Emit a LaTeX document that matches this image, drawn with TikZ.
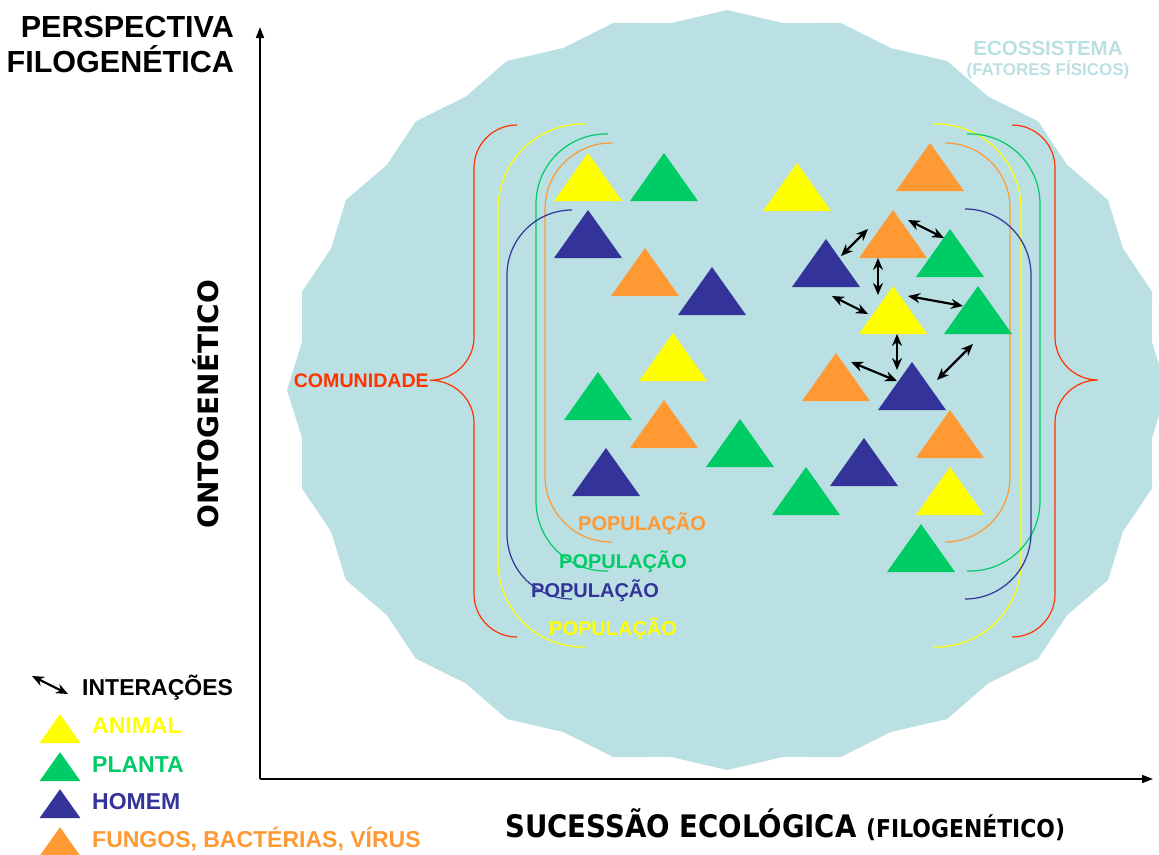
\documentclass[tikz,border=0pt]{standalone}
\usepackage{fontspec}
\setmainfont{Liberation Sans}
\newfontfamily\tahoma{DejaVu Sans}
\usetikzlibrary{arrows.meta}

\definecolor{eco}{HTML}{BBE0E3}
\definecolor{yel}{HTML}{FFFF00}
\definecolor{grn}{HTML}{00CC66}
\definecolor{nav}{HTML}{333399}
\definecolor{ora}{HTML}{FF9933}
\definecolor{com}{HTML}{FF3300}

% triangle: [scale]{colour}{centre x, base y}
\newcommand{\tri}[3][1]{\fill[#2] (#3) ++(-34*#1,0) -- ++(34*#1,-48*#1) -- ++(34*#1,48*#1) -- cycle;}

\tikzset{
  inter/.style={{Stealth[length=12pt,width=10pt]}-{Stealth[length=12pt,width=10pt]}, line width=2.2pt},
  axis/.style={-{Triangle[length=11pt,width=8pt]}, line width=1.6pt},
  brk/.style={line width=1.2pt},
  txt/.style={inner sep=0pt, anchor=base west, font=\bfseries\fontsize{#1}{#1}\selectfont},
  tah/.style={inner sep=0pt, font=\tahoma\bfseries\fontsize{#1}{#1}\selectfont}
}

\begin{document}
\begin{tikzpicture}[x=1pt,y=-1pt]
\useasboundingbox (0,0) rectangle (1159,854);

% ecossistema
\fill[eco] (727,10) \foreach \i [evaluate=\i as \r using {0.987+0.013*cos(180*\i)}] in {1,...,47} { -- ({727+440*\r*sin(7.5*\i)},{390-380*\r*cos(7.5*\i)}) } -- cycle;
\node[txt=20.5, anchor=base, text=eco] (eco1) at (1048,55) {ECOSSISTEMA};
\node[txt=17, anchor=base, text=eco] (eco2) at (1048,75) {(FATORES FÍSICOS)};

% eixos
\coordinate (o) at (260,779);
\coordinate (ytip) at (260,27);
\coordinate (xtip) at (1153,779);
\draw[axis] (o) -- (ytip);
\draw[axis] (o) -- (xtip);

\node[txt=30.5, anchor=base east] (tit1) at (234,37) {PERSPECTIVA};
\node[txt=30.5, anchor=base east] (tit2) at (234,72) {FILOGENÉTICA};
\node[tah=28, rotate=90, anchor=base] (onto) at (218,404) {ONTOGENÉTICO};
\node[tah=31, anchor=base west] (suc) at (505,837) {\scalebox{0.89}[1]{SUCESSÃO ECOLÓGICA {\fontsize{24.6}{24.6}\selectfont (FILOGENÉTICO)}}};

% comunidade
\node[txt=19.6, text=com, anchor=base east] (comu) at (429,387) {COMUNIDADE};
\draw[brk, com] (517,125) to[out=180,in=90] (474,168) -- (474,337) to[out=270,in=0] ([xshift=1pt]comu.east) to[out=0,in=90] (474,423) -- (474,594) to[out=270,in=180] (517,637);
\draw[brk, com] (1012,125) to[out=0,in=90] (1055,168) -- (1055,337) to[out=270,in=180] (1098,380) to[out=180,in=90] (1055,423) -- (1055,594) to[out=270,in=0] (1012,637);

% populacoes
\draw[brk, yel, rounded corners=85] (585,124) -| (498,647) -- (585,647);
\draw[brk, yel, rounded corners=85] (933,124) -| (1021,647) -- (933,647);
\draw[brk, grn, rounded corners=70] (608,134) -| (536,571) -- (608,571);
\draw[brk, grn, rounded corners=70] (967,134) -| (1040,571) -- (967,571);
\draw[brk, ora, rounded corners=66] (612,143) -| (545,542) -- (612,542);
\draw[brk, ora, rounded corners=65] (945,143) -| (1010,542) -- (945,542);
\draw[brk, nav, rounded corners=65] (572,210) -| (507,599) -- (572,599);
\draw[brk, nav, rounded corners=66] (965,209) -| (1031,599) -- (965,599);

\node[txt=20, text=ora] (pora) at (578,530) {POPULAÇÃO};
\node[txt=20, text=grn] (pgrn) at (559,568) {POPULAÇÃO};
\node[txt=20, text=nav] (pnav) at (531,597) {POPULAÇÃO};
\node[txt=20, text=yel] (pyel) at (549,635) {POPULAÇÃO};

% organismos
\foreach \c in {{588,201},{797,211},{893,334},{673,381},{950,515}} {\tri{yel}{\c}}
\foreach \c in {{664,201},{950,277},{978,334},{598,420},{740,467},{806,515},{921,572}} {\tri{grn}{\c}}
\foreach \c in {{588,258},{712,315},{826,287},{912,410},{606,496},{864,486}} {\tri{nav}{\c}}
\foreach \c in {{930,191},{893,258},{645,296},{836,401},{664,448},{950,458}} {\tri{ora}{\c}}

% interacoes
\foreach \p/\q [count=\k] in {{841,256}/{868,229}, {908,220}/{944,238}, {878,258}/{878,295},
  {832,296}/{868,314}, {908,296}/{963,306}, {897,334}/{897,370}, {851,362}/{897,381}, {937,380}/{973,344}} {
  \coordinate (p\k) at (\p);
  \coordinate (q\k) at (\q);
  \draw[inter] (p\k) -- (q\k);
}

% legenda
\coordinate (ia) at (32,676);
\coordinate (ib) at (68,694);
\draw[inter] (ia) -- (ib);
\node[txt=23] (linter) at (82,695) {INTERAÇÕES};
\tri[0.6]{yel}{60,743}
\node[txt=23, text=yel] (lanim) at (92,733) {ANIMAL};
\tri[0.6]{grn}{60,781}
\node[txt=23, text=grn] (lplan) at (92,772) {PLANTA};
\tri[0.6]{nav}{60,818}
\node[txt=23, text=nav] (lhom) at (92,809) {HOMEM};
\tri[0.6]{ora}{60,856}
\node[txt=23, text=ora] (lfung) at (92,847) {FUNGOS, BACTÉRIAS, VÍRUS};

\end{tikzpicture}
\end{document}
